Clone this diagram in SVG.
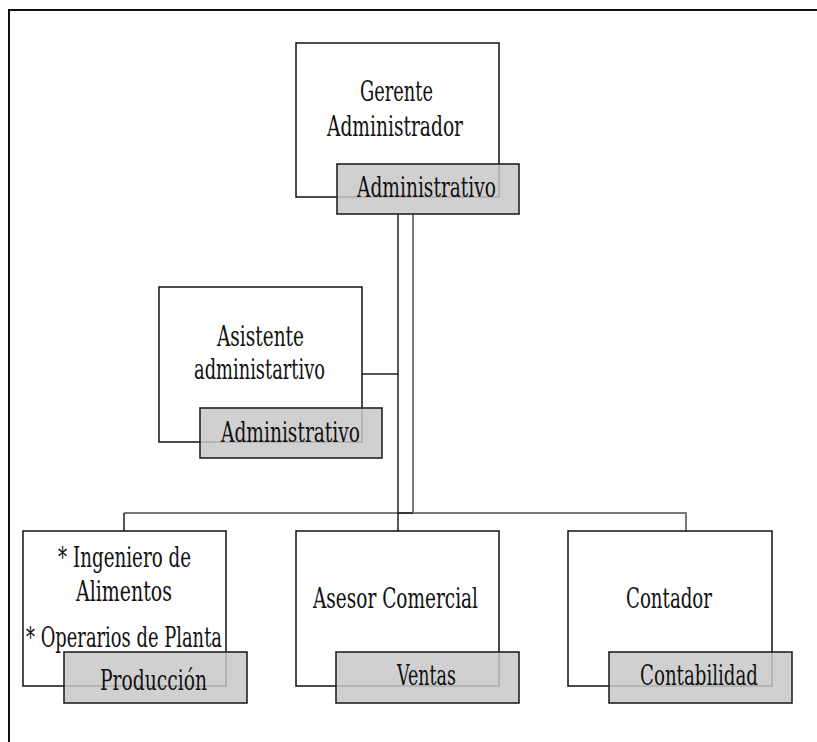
<svg xmlns="http://www.w3.org/2000/svg" width="817" height="742" viewBox="0 0 817 742">
<style>
.box{fill:#fff;stroke:#111;stroke-width:1.5}
.tag{fill:#c8c8c8;fill-opacity:0.85;stroke:#222;stroke-width:1.6}
.t{font-family:'DejaVu Serif','Liberation Serif',serif;font-size:27px;fill:#111}
.dk{fill:none;stroke:#222;stroke-width:1.5}
.lt{fill:none;stroke:#7a7a7a;stroke-width:2}
</style>
<rect x="0" y="0" width="817" height="742" fill="#fff"/>
<path d="M9,742 V10 H817" fill="none" stroke="#111" stroke-width="2"/>
<g id="connectors">
<path class="lt" d="M413,214 V513 M124,513 H686 V531"/>
<path class="dk" d="M398,214 V374 H362 M398,214 V531 M398,513 H413 M124,513 V531"/>
</g>
<g id="gerente" class="t">
<rect class="box" x="296" y="43" width="203" height="154"/>
<text x="360" y="101" textLength="73" lengthAdjust="spacingAndGlyphs">Gerente</text>
<text x="327" y="136" textLength="136" lengthAdjust="spacingAndGlyphs">Administrador</text>
<rect class="tag" x="337" y="164" width="182" height="50"/>
<text x="357" y="197" textLength="139" lengthAdjust="spacingAndGlyphs">Administrativo</text>
</g>
<g id="asistente" class="t">
<rect class="box" x="159" y="287" width="203" height="155"/>
<text x="217" y="346" textLength="87" lengthAdjust="spacingAndGlyphs">Asistente</text>
<text x="194" y="379" textLength="131" lengthAdjust="spacingAndGlyphs">administartivo</text>
<rect class="tag" x="200" y="408" width="182" height="50"/>
<text x="221" y="442" textLength="139" lengthAdjust="spacingAndGlyphs">Administrativo</text>
</g>
<g id="produccion" class="t">
<rect class="box" x="23" y="531" width="203" height="155"/>
<text x="58" y="567" textLength="133" lengthAdjust="spacingAndGlyphs">* Ingeniero de</text>
<text x="76" y="601" textLength="96" lengthAdjust="spacingAndGlyphs">Alimentos</text>
<text x="26" y="647" textLength="196" lengthAdjust="spacingAndGlyphs">* Operarios de Planta</text>
<rect class="tag" x="64" y="652" width="183" height="51"/>
<text x="100" y="690" textLength="107" lengthAdjust="spacingAndGlyphs">Producción</text>
</g>
<g id="ventas" class="t">
<rect class="box" x="296" y="531" width="203" height="155"/>
<text x="313" y="608" textLength="165" lengthAdjust="spacingAndGlyphs">Asesor Comercial</text>
<rect class="tag" x="336" y="652" width="183" height="51"/>
<text x="397" y="685" textLength="59" lengthAdjust="spacingAndGlyphs">Ventas</text>
</g>
<g id="contabilidad" class="t">
<rect class="box" x="568" y="531" width="204" height="155"/>
<text x="626" y="608" textLength="86" lengthAdjust="spacingAndGlyphs">Contador</text>
<rect class="tag" x="609" y="652" width="183" height="51"/>
<text x="640" y="685" textLength="118" lengthAdjust="spacingAndGlyphs">Contabilidad</text>
</g>
</svg>
